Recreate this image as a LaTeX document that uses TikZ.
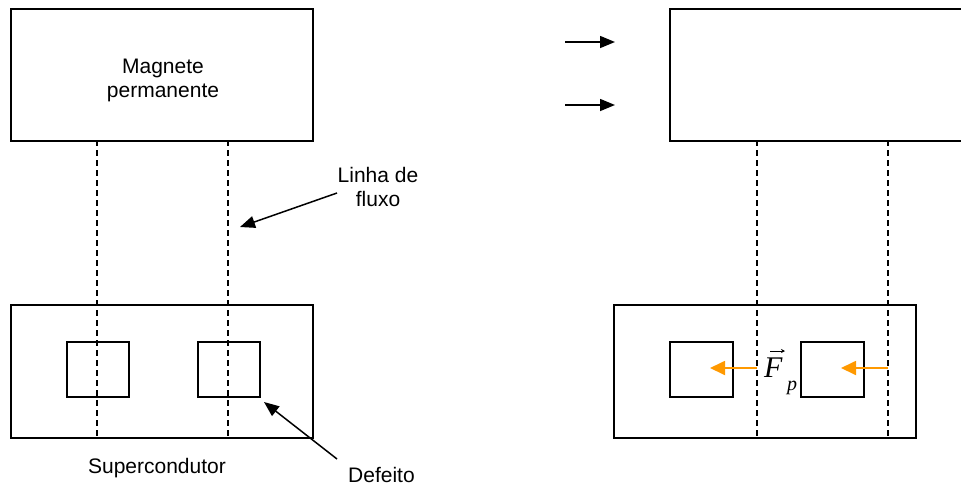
\documentclass[tikz,border=0pt]{standalone}
\usepackage{fontspec}
\setmainfont{Liberation Sans}
\newfontfamily\timesit{Liberation Serif}
\usetikzlibrary{arrows.meta}
\definecolor{forceorange}{RGB}{255,153,0}
\begin{document}
\begin{tikzpicture}[x=1pt,y=-1pt,
  box/.style={draw, line width=1.8pt, inner sep=0pt, anchor=north west},
  flux/.style={line width=1.5pt, dash pattern=on 6pt off 4pt},
  lbl/.style={font=\fontsize{21}{24}\selectfont, align=center, inner sep=0pt},
  blackarrow/.style={line width=1.5pt, -{Triangle[length=15pt,width=12pt]}},
  forcearrow/.style={draw=forceorange, line width=1.8pt, -{Triangle[length=15pt,width=14pt]}, forceorange}]
\useasboundingbox (0,0) rectangle (961,488);
% left side
\node[box, minimum width=302pt, minimum height=132pt] (m1) at (10,8) {};
\node[lbl] (m1t) at (163,80) {Magnete\\permanente};
\node[box, minimum width=302pt, minimum height=133pt] (s1) at (10,304) {};
\node[box, minimum width=62pt, minimum height=55pt] (q1) at (66,341) {};
\node[box, minimum width=62pt, minimum height=55pt] (q2) at (197,341) {};
\coordinate (a1t) at (97,140); \coordinate (a1b) at (97,437);
\coordinate (a2t) at (228,140); \coordinate (a2b) at (228,437);
\draw[flux] (a1t) -- (a1b);
\draw[flux] (a2t) -- (a2b);
\node[lbl] (lf) at (378,187) {Linha de\\fluxo};
\coordinate (lft) at (337,193); \coordinate (lfh) at (240,227);
\draw[blackarrow] (lft) -- (lfh);
\node[lbl] (sc) at (157,468) {Supercondutor};
\node[lbl, anchor=base west] (df) at (348,482) {Defeito};
\coordinate (dft) at (337,459); \coordinate (dfh) at (264,402);
\draw[blackarrow] (dft) -- (dfh);
% right side
\node[box, minimum width=320pt, minimum height=132pt] (m2) at (669,8) {};
\coordinate (r1t) at (565,42); \coordinate (r1h) at (615,42);
\coordinate (r2t) at (565,105); \coordinate (r2h) at (615,105);
\draw[blackarrow] (r1t) -- (r1h);
\draw[blackarrow] (r2t) -- (r2h);
\node[box, minimum width=302pt, minimum height=133pt] (s2) at (613,304) {};
\node[box, minimum width=63pt, minimum height=55pt] (q3) at (669,341) {};
\node[box, minimum width=63pt, minimum height=55pt] (q4) at (800,341) {};
\coordinate (b1t) at (757,140); \coordinate (b1b) at (757,437);
\coordinate (b2t) at (888,140); \coordinate (b2b) at (888,437);
\draw[flux] (b1t) -- (b1b);
\draw[flux] (b2t) -- (b2b);
\coordinate (f1t) at (757,368); \coordinate (f1h) at (710,368);
\coordinate (f2t) at (888,368); \coordinate (f2h) at (841,368);
\draw[forcearrow] (f1t) -- (f1h);
\draw[forcearrow] (f2t) -- (f2h);
\node[inner sep=0pt, anchor=base west, font=\timesit\itshape\fontsize{30}{30}\selectfont] (fp) at (764,377) {F};
\node[inner sep=0pt, anchor=base west, font=\timesit\itshape\fontsize{20}{20}\selectfont] (fpsub) at (787,390) {p};
\coordinate (vt) at (770,351); \coordinate (vh) at (785,351);
\draw[line width=1pt, -{Stealth[length=4pt,width=4pt]}] (vt) -- (vh);
\end{tikzpicture}
\end{document}
